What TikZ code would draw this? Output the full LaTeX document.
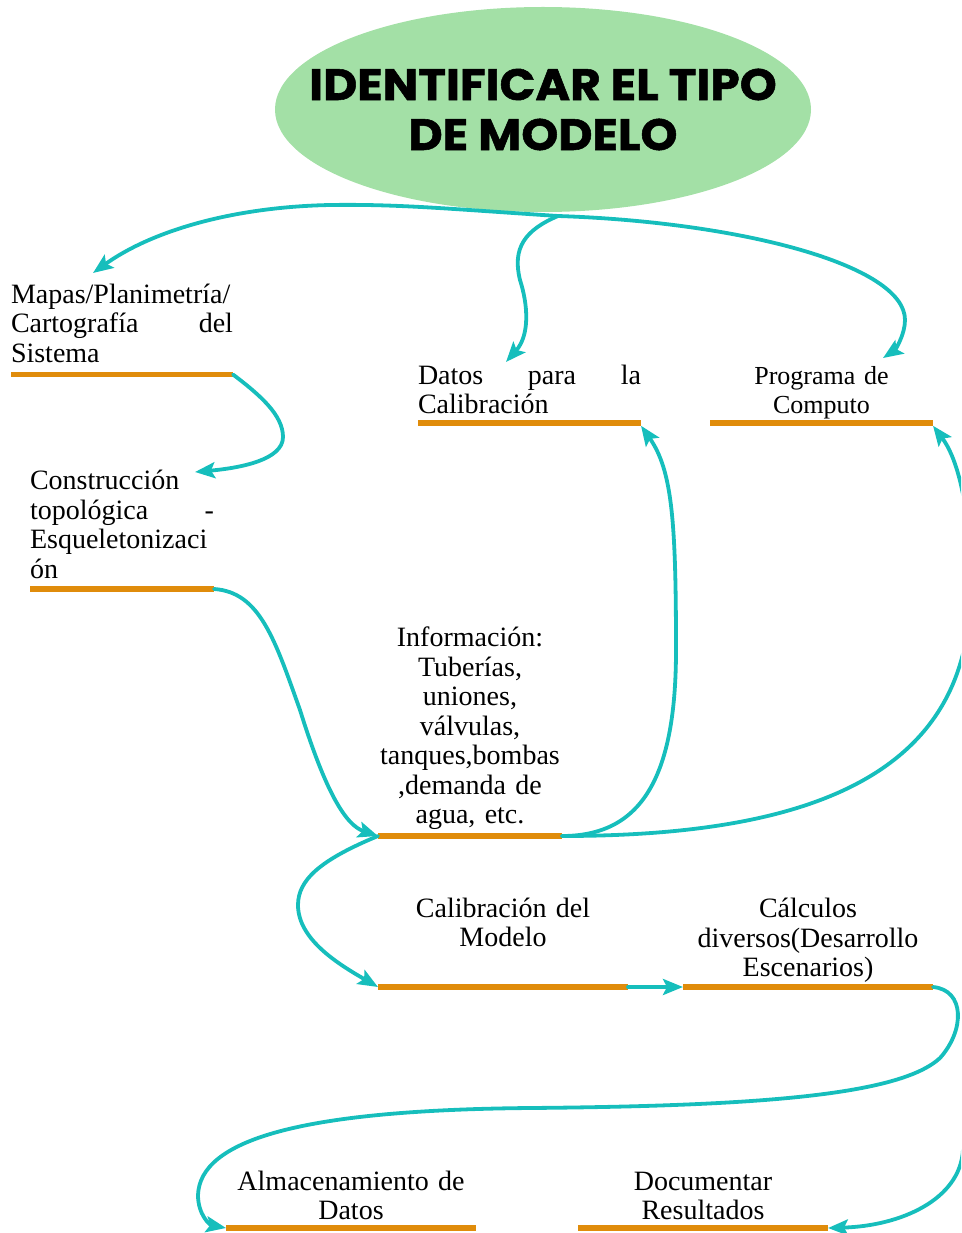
\documentclass[tikz,border=0pt]{standalone}
\usepackage{fontspec}
\setmainfont{Liberation Serif}
\newfontfamily\titlefont{Poppins}[FakeStretch=1.07, BoldFeatures={FakeBold=1.2}]
\usetikzlibrary{shapes.geometric, arrows.meta, positioning, calc}
\definecolor{titlegreen}{RGB}{163,224,166}
\definecolor{flowteal}{RGB}{22,190,188}
\definecolor{barorange}{RGB}{224,140,11}
\newcommand{\itemfont}{\fontsize{28}{29.5}\selectfont\hyphenpenalty=10000\tolerance=10000\hbadness=10000}

\begin{document}
\begin{tikzpicture}[
        x=1pt, y=1pt,
        every node/.style={inner sep=0pt, outer sep=0pt},
        goal/.style={ellipse, fill=titlegreen, minimum width=536pt, minimum height=205pt},
        goaltext/.style={align=center, font=\titlefont\bfseries\fontsize{44}{50}\selectfont},
        bar/.style={rectangle, fill=barorange, minimum height=5.5pt, minimum width=#1},
        item/.style={anchor=base, text width=#1, font=\itemfont},
        link/.style={-{Stealth[length=20pt, width=16pt, inset=4pt]}, draw=flowteal,
                     line width=3.8pt, line cap=round}
    ]
        % Canvas
        \path[use as bounding box] (0,0) rectangle (961,-1233);
        \clip (0,0) rectangle (961,-1233);

        % Title
        \node [goal] (goal) at (543,-109.5) {};
        \node [goaltext] (goaltxt) at (goal.center) {IDENTIFICAR EL TIPO\\DE MODELO};
        \coordinate (hub) at ($(goal.south)+(15,-4)$);

        % Orange bars with explicit coordinates
        \node [bar=222pt] (mapas) at (122,-374.5) {};
        \node [bar=184pt] (constr) at (122,-589) {};
        \node [bar=223pt] (datos) at (529.5,-423) {};
        \node [bar=223pt] (prog) at (821.5,-423) {};
        \node [bar=184pt] (info) at (470,-836) {};
        \node [bar=250pt] (calib) at (503,-987) {};
        \node [bar=250pt] (calc) at (808,-987) {};
        \node [bar=250pt] (alm) at (351,-1228) {};
        \node [bar=250pt] (doc) at (703,-1228) {};

        % Labels (anchored at first baseline)
        \node [item=222pt, align=justify] (mapastxt) at (122,-303)
            {Mapas/Planimetría/\newline Cartografía del\linebreak Sistema};
        \node [item=184pt, align=justify] (constrtxt) at (122,-489.5)
            {Construcción\newline topológica -\linebreak Esqueletonizaci\newline ón};
        \node [item=223pt, align=justify] (datostxt) at (529.5,-384)
            {Datos para la\linebreak Calibración};
        \node [item=223pt, align=center, font=\fontsize{26}{29}\selectfont] (progtxt) at (821.5,-384.5)
            {Programa de\\Computo};
        \node [item=184pt, align=center] (infotxt) at (470,-646.5)
            {Información:\\Tuberías,\\uniones,\\válvulas,\\tanques,bombas\\,demanda de\\agua, etc.};
        \node [item=250pt, align=center] (calibtxt) at (503,-917)
            {Calibración del\\Modelo};
        \node [item=250pt, align=center] (calctxt) at (808,-917.5)
            {Cálculos\\diversos(Desarrollo\\Escenarios)};
        \node [item=250pt, align=center] (almtxt) at (351,-1190)
            {Almacenamiento de\\Datos};
        \node [item=250pt, align=center] (doctxt) at (703,-1190)
            {Documentar\\Resultados};

        % Fan-out from the title
        \draw[link] (hub) .. controls (450,-209) and (400,-204) .. (330,-205)
            .. controls (230,-207) and (150,-232) .. ($(mapas)+(-29,101.5)$);
        \draw[link] (hub) .. controls (525,-230) and (512,-248) .. (520,-280)
            .. controls (528,-305) and (530,-335) .. ($(datos)+(-23.5,61)$);
        \draw[link] (hub) .. controls (740,-222) and (905,-265) .. (905,-320)
            .. controls (905,-335) and (895,-350) .. ($(prog)+(61.5,65)$);

        % Left chain
        \draw[link] (mapas.east) .. controls (260,-395) and (283,-415) .. (283,-437)
            .. controls (283,-460) and (240,-468) .. ($(constr)+(73,117)$);
        \draw[link] (constr.east) .. controls (260,-592) and (275,-640) .. (300,-710)
            .. controls (325,-790) and (345,-825) .. (info.west);

        % From Informacion
        \draw[link] (info.east) .. controls (640,-836) and (676,-780) .. (676,-650)
            .. controls (676,-520) and (672,-470) .. (datos.south east);
        \draw[link] (info.east) .. controls (800,-836) and (965,-780) .. (970,-600)
            .. controls (972,-500) and (955,-455) .. (prog.south east);
        \draw[link] (info.west) .. controls (320,-860) and (298,-880) .. (298,-905)
            .. controls (298,-940) and (340,-965) .. (calib.west);
        \draw[link] (calib.east) -- (calc.west);

        % Lower loop
        \draw[link] (calc.east) .. controls (965,-990) and (965,-1030) .. (940,-1058)
            .. controls (900,-1095) and (760,-1106) .. (530,-1108)
            .. controls (300,-1110) and (200,-1140) .. (198,-1195)
            .. controls (198,-1215) and (210,-1225) .. (alm.west);
        \coordinate (offright) at (963,-1150);
        \draw[link] (offright) .. controls (960,-1200) and (900,-1226) .. (doc.east);
    \end{tikzpicture}
\end{document}
